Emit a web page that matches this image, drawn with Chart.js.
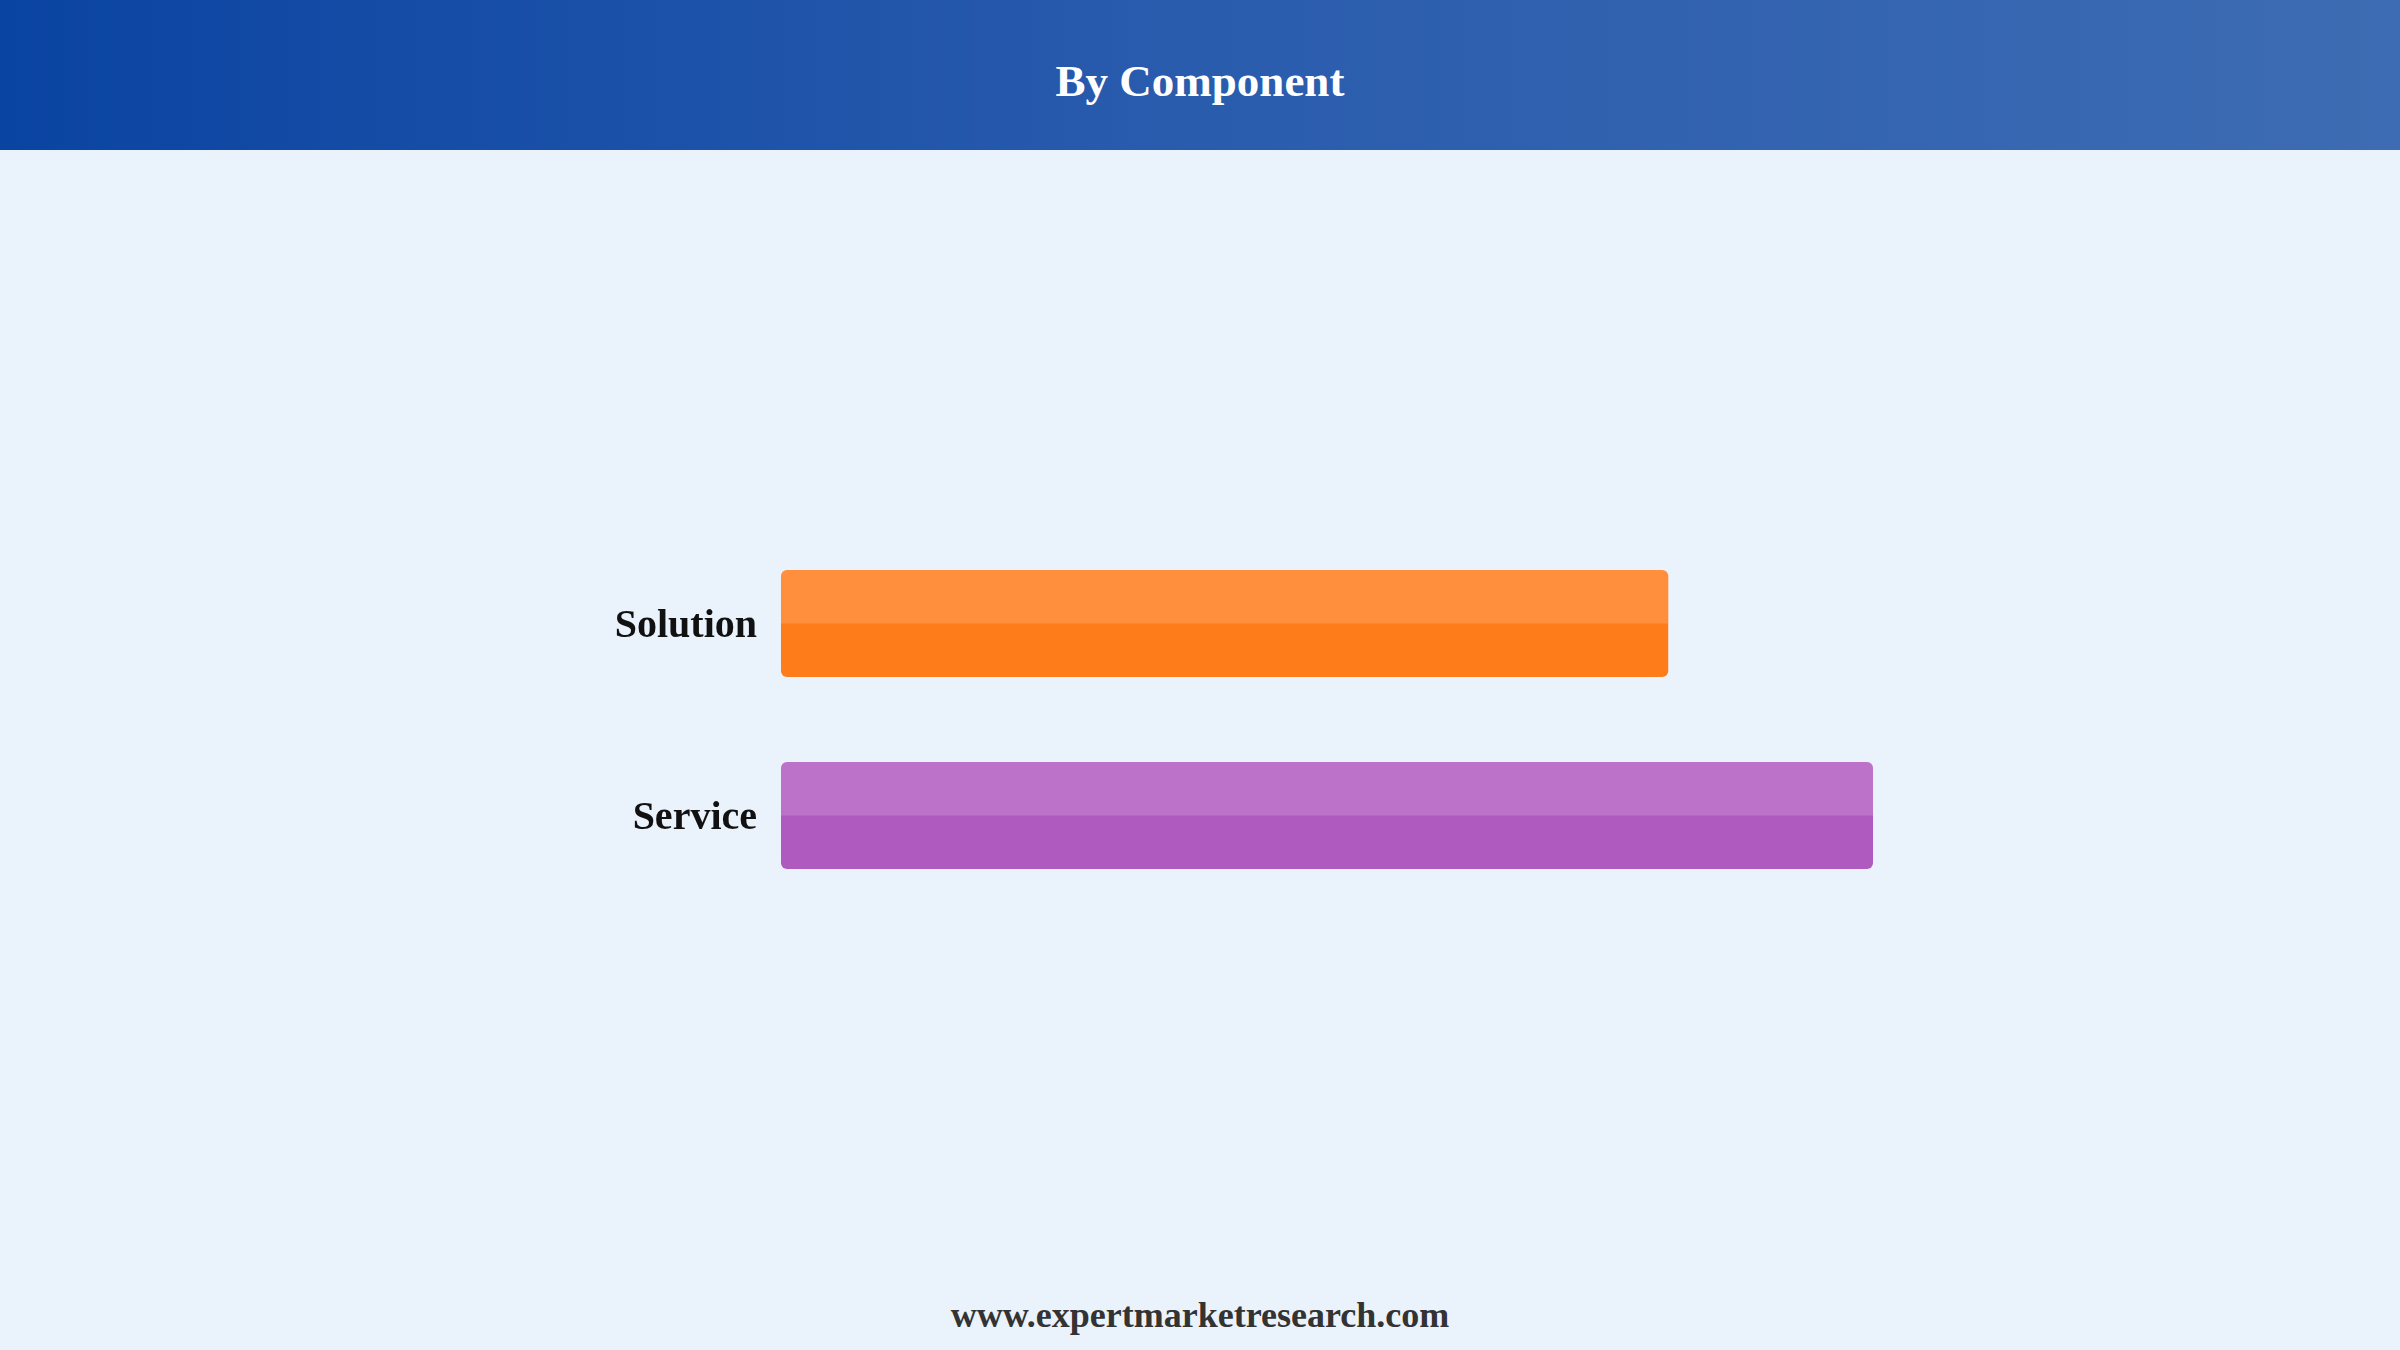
<!DOCTYPE html>
<html>
<head>
<meta charset="utf-8">
<script src="https://cdn.jsdelivr.net/npm/chart.js@4.4.1/dist/chart.umd.min.js"></script>
<style>
  html, body { margin:0; padding:0; width:2400px; height:1350px; overflow:hidden; background:#eaf2fc; font-family:"Liberation Serif","Times New Roman",serif; }
  #header { position:absolute; left:0; top:0; width:2400px; height:150px;
    background:linear-gradient(to right,#0a44a2 0%,#2a5cae 50%,#3d6cb3 100%);
    color:#fff; font-weight:bold; font-size:45px; text-align:center; line-height:162px; }
  #wrap { position:absolute; left:0; top:150px; width:2400px; height:1110px; }
  #footer { position:absolute; left:0; top:1290px; width:2400px; height:50px; text-align:center;
    font-weight:bold; font-size:36px; color:#333; line-height:50px; }
</style>
</head>
<body>
<div id="header">By Component</div>
<div id="wrap"><canvas id="c"></canvas></div>
<div id="footer">www.expertmarketresearch.com</div>
<script>
const categories = ["Solution", "Service"];
const values = [65, 80];
const barColors = ["#ff7c1a", "#af5abf"];

const highlight = {
  id: 'highlight',
  afterDatasetsDraw(chart) {
    const ctx = chart.ctx;
    chart.getDatasetMeta(0).data.forEach(bar => {
      const p = bar.getProps(['x','y','base','height'], true);
      const left = Math.min(p.base, p.x), right = Math.max(p.base, p.x);
      const top = p.y - p.height / 2;
      const h = p.height / 2;
      ctx.save();
      ctx.fillStyle = 'rgba(255,255,255,0.15)';
      ctx.beginPath();
      ctx.roundRect(left, top, right - left, h, [6, 6, 0, 0]);
      ctx.fill();
      ctx.restore();
    });
  }
};

new Chart(document.getElementById('c'), {
  type: 'bar',
  data: {
    labels: categories,
    datasets: [{
      data: values,
      backgroundColor: barColors,
      borderWidth: 0,
      borderRadius: 6,
      borderSkipped: false,
      categoryPercentage: 1,
      barPercentage: 0.557
    }]
  },
  options: {
    indexAxis: 'y',
    responsive: true,
    maintainAspectRatio: false,
    devicePixelRatio: 1,
    animation: false,
    layout: { padding: { top: 377.5, bottom: 348.5, left: 0, right: 254 } },
    plugins: { legend: { display: false }, tooltip: { enabled: false } },
    scales: {
      x: { display: false, min: 0, max: 100 },
      y: {
        grid: { display: false },
        border: { display: false },
        ticks: {
          color: '#111',
          padding: 16,
          labelOffset: 3,
          font: { family: '"Liberation Serif","Times New Roman",serif', size: 40, weight: 'bold' }
        },
        afterFit(s) { s.width = 781; }
      }
    }
  },
  plugins: [highlight]
});
</script>
</body>
</html>
